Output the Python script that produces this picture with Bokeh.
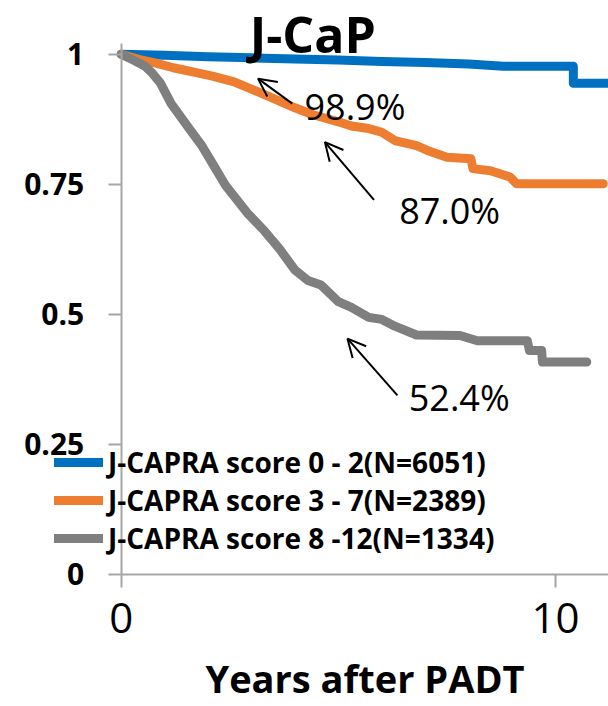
from bokeh.plotting import figure
from bokeh.models import FixedTicker, Label, Arrow, OpenHead, Legend, LegendItem
from bokeh.embed import file_html
from bokeh.resources import INLINE

# ---- data ----
blue_x = [0, 1, 2, 3, 4, 5, 6, 7, 8, 8.8, 10.41, 10.41, 11.22]
blue_y = [1.0, 0.998, 0.995, 0.993, 0.991, 0.989, 0.986, 0.984, 0.981, 0.977, 0.977, 0.944, 0.944]

orange_x = [0, 0.4, 0.8, 1.2, 1.7, 2.1, 2.6, 3.0, 3.5, 4.0, 4.4, 5.0, 5.3, 5.7, 6.0, 6.3,
            6.8, 7.05, 7.5, 8.05, 8.1, 8.5, 8.95, 9.1, 11.1]
orange_y = [1.0, 0.99, 0.983, 0.974, 0.965, 0.958, 0.947, 0.933, 0.915, 0.897, 0.884, 0.870,
            0.862, 0.857, 0.850, 0.834, 0.824, 0.815, 0.802, 0.799, 0.780, 0.776, 0.764, 0.751, 0.751]

gray_x = [0, 0.3, 0.55, 0.7, 0.9, 1.15, 1.4, 1.6, 1.85, 2.1, 2.4, 2.9, 3.3, 3.65, 4.0, 4.3,
          4.6, 4.9, 5.0, 5.3, 5.7, 6.0, 6.3, 6.8, 7.8, 8.2, 9.35, 9.4, 9.68, 9.7, 10.72]
gray_y = [1.0, 0.988, 0.977, 0.965, 0.945, 0.905, 0.876, 0.853, 0.825, 0.79, 0.748, 0.695,
          0.66, 0.625, 0.585, 0.565, 0.556, 0.532, 0.524, 0.513, 0.494, 0.49, 0.477, 0.46,
          0.459, 0.449, 0.449, 0.43, 0.43, 0.408, 0.408]

series_names = ["J-CAPRA score 0 - 2(N=6051)", "J-CAPRA score 3 - 7(N=2389)", "J-CAPRA score 8 -12(N=1334)"]
series_colors = ["#0070C0", "#ED7D31", "#7F7F7F"]

x_ticks = [0, 10]
x_tick_labels = ["0", "10"]
y_ticks = [0, 0.25, 0.5, 0.75, 1]
y_tick_labels = ["0", "0.25", "0.5", "0.75", "1"]

ann_text = ["98.9%", "87.0%", "52.4%"]
ann_x = [4.22, 6.40, 6.62]
ann_y = [0.900, 0.700, 0.340]
arrow_x0 = [3.94, 5.82, 6.36]
arrow_y0 = [0.905, 0.720, 0.344]
arrow_x1 = [3.15, 4.69, 5.21]
arrow_y1 = [0.953, 0.831, 0.453]

FONT = "Open Sans"
AXIS_COLOR = "#A6A6A6"
X_MAX = 11.22
Y_TOP = 1.0206

# the frame covers the whole canvas; axes sit at fixed data locations
p = figure(width=608, height=706, x_range=(-2.779, X_MAX), y_range=(-0.2544, 1.1033),
           output_backend="svg", toolbar_location=None,
           min_border_left=0, min_border_right=0, min_border_top=0, min_border_bottom=0)
p.grid.visible = False
p.outline_line_color = None
p.background_fill_color = "white"
p.border_fill_color = "white"

renderers = []
for xs, ys, c in [(blue_x, blue_y, series_colors[0]), (orange_x, orange_y, series_colors[1]),
                  (gray_x, gray_y, series_colors[2])]:
    r = p.line(xs, ys, line_color=c, line_width=9, line_cap="round", line_join="round")
    renderers.append(r)

# axes
p.xaxis.fixed_location = 0
p.yaxis.fixed_location = 0
p.xaxis.bounds = (0, X_MAX)
p.yaxis.bounds = (0, Y_TOP)
p.xaxis.ticker = FixedTicker(ticks=x_ticks)
p.xaxis.major_label_overrides = {t: l for t, l in zip(x_ticks, x_tick_labels)}
p.yaxis.ticker = FixedTicker(ticks=y_ticks)
p.yaxis.major_label_overrides = {t: l for t, l in zip(y_ticks, y_tick_labels)}
for ax in (p.xaxis, p.yaxis):
    ax.axis_line_color = AXIS_COLOR
    ax.axis_line_width = 2
    ax.major_tick_line_color = AXIS_COLOR
    ax.major_tick_line_width = 2
    ax.major_tick_in = 0
    ax.major_tick_out = 13
    ax.minor_tick_line_color = None
    ax.major_label_text_font = FONT
    ax.major_label_text_color = "black"

p.yaxis.major_label_text_font_size = "30px"
p.yaxis.major_label_text_font_style = "bold"
p.yaxis.major_label_standoff = 24
p.xaxis.major_label_text_font_size = "42px"
p.xaxis.major_label_standoff = 16
p.xaxis.axis_label = "Years after PADT"
p.xaxis.axis_label_text_font = FONT
p.xaxis.axis_label_text_font_size = "38px"
p.xaxis.axis_label_text_font_style = "bold"
p.xaxis.axis_label_text_color = "black"
p.xaxis.axis_label_standoff = 15

# legend
items = [LegendItem(label=n, renderers=[r]) for n, r in zip(series_names, renderers)]
legend = Legend(items=items, location=(54, 149), glyph_width=49, glyph_height=20,
                label_standoff=5, spacing=-2, padding=0, margin=0,
                background_fill_alpha=0, border_line_alpha=0,
                label_text_font=FONT, label_text_font_style="bold",
                label_text_font_size="28px", label_text_color="black")
p.add_layout(legend)

# title
p.add_layout(Label(x=4.41, y=1.038, text="J-CaP", text_align="center", text_baseline="middle",
                   text_font=FONT, text_font_style="bold", text_font_size="50px", text_color="black"))

# annotations
for t, x, y in zip(ann_text, ann_x, ann_y):
    p.add_layout(Label(x=x, y=y, text=t, text_align="left", text_baseline="middle",
                       text_font=FONT, text_font_size="36px", text_color="black"))
for x0, y0, x1, y1 in zip(arrow_x0, arrow_y0, arrow_x1, arrow_y1):
    p.add_layout(Arrow(x_start=x0, y_start=y0, x_end=x1, y_end=y1, line_width=2, line_color="black",
                       end=OpenHead(size=18, line_width=2, line_color="black")))

open("out.html", "w").write(file_html(p, INLINE))
